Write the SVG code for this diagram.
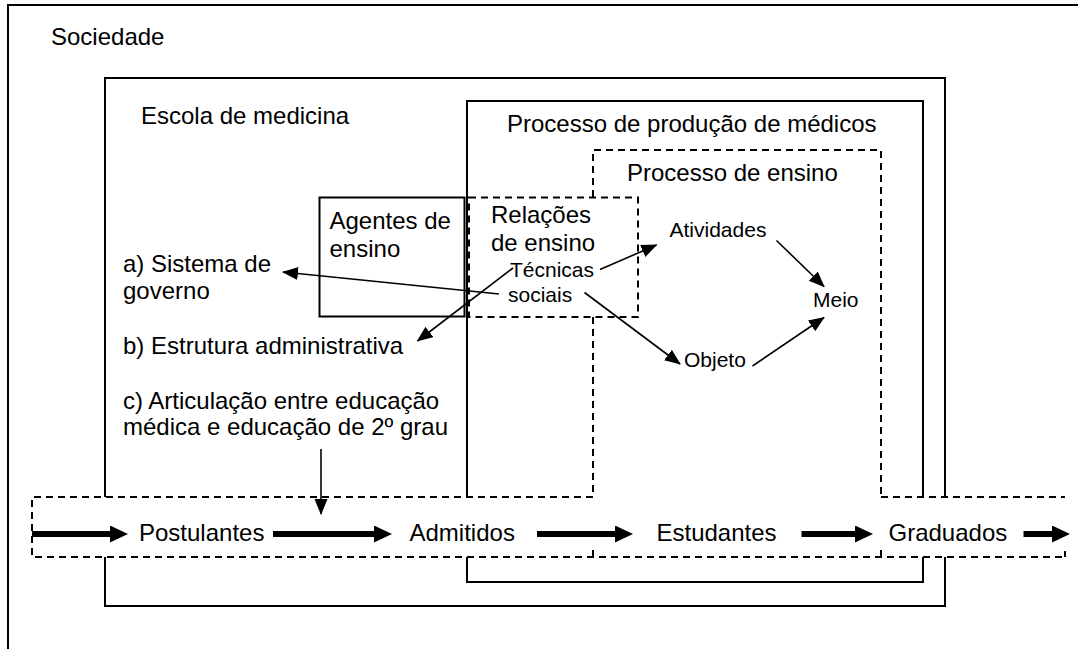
<svg xmlns="http://www.w3.org/2000/svg" width="1078" height="649" viewBox="0 0 1078 649">
<style>
.t{font-family:"Liberation Sans",Arial,sans-serif;font-size:24px;fill:#000}
.s{font-family:"Liberation Sans",Arial,sans-serif;font-size:21px;fill:#000}
.box{fill:none;stroke:#000;stroke-width:2}
.dash{fill:none;stroke:#000;stroke-width:2;stroke-dasharray:7 5}
.thin{fill:none;stroke:#000;stroke-width:1.6}
.thick{fill:none;stroke:#000;stroke-width:6}
</style>
<defs>
<marker id="ah" markerUnits="userSpaceOnUse" markerWidth="18" markerHeight="14" refX="15" refY="6.5" orient="auto">
<path d="M0,0 L16,6.5 L0,13 z" fill="#000"/>
</marker>
<marker id="bh" markerUnits="userSpaceOnUse" markerWidth="19" markerHeight="18" refX="0" refY="8.5" orient="auto">
<path d="M0,0 L18,8.5 L0,17 z" fill="#000"/>
</marker>
</defs>
<rect width="1078" height="649" fill="#fff"/>

<g id="sociedade">
<path class="box" d="M8,649 V5 H1078"/>
<text class="t" x="51" y="45">Sociedade</text>
</g>

<g id="escola">
<path class="box" d="M105,497 V78 H945 V497 M105,557 V606 H945 V557"/>
<text class="t" x="141" y="124">Escola de medicina</text>
</g>

<g id="producao">
<path class="box" d="M467,497 V101 H923 V497 M467,557 V582 H923 V557"/>
<text class="t" x="507" y="132">Processo de produção de médicos</text>
</g>

<g id="ensino">
<path class="dash" d="M593,197 V150 H881 V497 M593,317 V497"/>
<text class="t" x="627" y="181">Processo de ensino</text>
</g>

<g id="fluxo">
<path class="dash" d="M593,497 H32 V557 H1065 M881,497 H1065 M1065,551 V557 M593,550 V557 M881,550 V557"/>
</g>

<g id="agentes">
<rect class="box" x="319.5" y="197.5" width="145" height="119"/>
<text class="t" x="329.5" y="229">Agentes de</text>
<text class="t" x="329.5" y="257">ensino</text>
</g>

<g id="relacoes">
<rect class="dash" x="469" y="197.5" width="169" height="119.5"/>
<text class="t" x="491" y="223">Relações</text>
<text class="t" x="491" y="251">de ensino</text>
</g>

<g id="tecnicas">
<text class="s" x="510" y="277">Técnicas</text>
<text class="s" x="508" y="302">sociais</text>
</g>

<g id="atividades"><text class="s" x="669.5" y="237">Atividades</text></g>
<g id="meio"><text class="s" x="813" y="307">Meio</text></g>
<g id="objeto"><text class="s" x="684" y="367">Objeto</text></g>

<g id="sistema">
<text class="t" x="123" y="272">a) Sistema de</text>
<text class="t" x="123" y="298.5">governo</text>
</g>
<g id="estrutura"><text class="t" x="123" y="353.5">b) Estrutura administrativa</text></g>
<g id="articulacao">
<text class="t" x="123" y="408.5">c) Articulação entre educação</text>
<text class="t" x="123" y="435">médica e educação de 2º grau</text>
</g>

<g id="postulantes"><text class="t" x="139" y="541">Postulantes</text></g>
<g id="admitidos"><text class="t" x="409.5" y="541">Admitidos</text></g>
<g id="estudantes"><text class="t" x="656.5" y="541">Estudantes</text></g>
<g id="graduados"><text class="t" x="888.5" y="541">Graduados</text></g>

<g id="connectors">
<line class="thin" x1="499" y1="294" x2="283" y2="272" marker-end="url(#ah)"/>
<line class="thin" x1="513" y1="268" x2="417.5" y2="341" marker-end="url(#ah)"/>
<line class="thin" x1="600" y1="269.5" x2="656.5" y2="245" marker-end="url(#ah)"/>
<line class="thin" x1="584.5" y1="292.5" x2="680" y2="364" marker-end="url(#ah)"/>
<line class="thin" x1="776.5" y1="240.5" x2="824" y2="286.5" marker-end="url(#ah)"/>
<line class="thin" x1="752.5" y1="366" x2="824" y2="317.5" marker-end="url(#ah)"/>
<line class="thin" x1="321" y1="449" x2="321" y2="514" marker-end="url(#ah)"/>
<line class="thick" x1="32" y1="534" x2="110" y2="534" marker-end="url(#bh)"/>
<line class="thick" x1="273" y1="534" x2="374" y2="534" marker-end="url(#bh)"/>
<line class="thick" x1="537" y1="534" x2="615" y2="534" marker-end="url(#bh)"/>
<line class="thick" x1="801.5" y1="534" x2="855" y2="534" marker-end="url(#bh)"/>
<line class="thick" x1="1023.5" y1="534" x2="1052" y2="534" marker-end="url(#bh)"/>
</g>
</svg>
